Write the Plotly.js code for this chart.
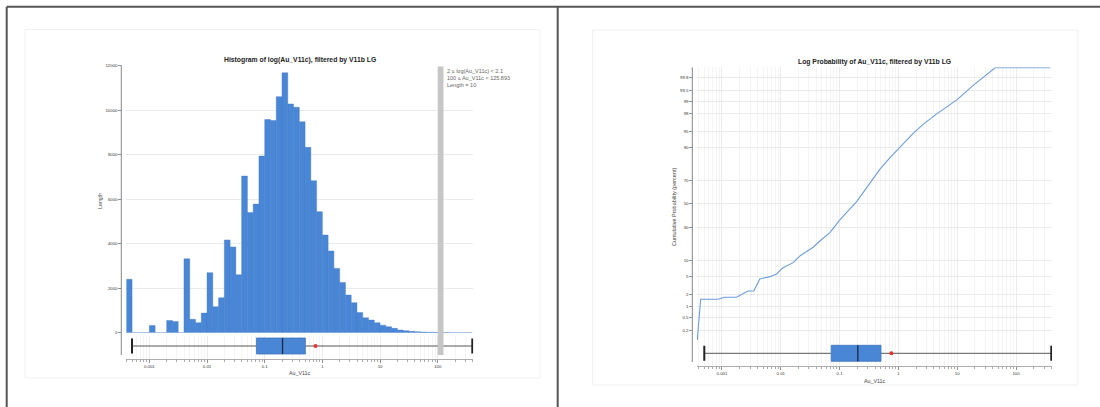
<!DOCTYPE html>
<html><head><meta charset="utf-8">
<script src="https://cdn.plot.ly/plotly-3.0.1.min.js"></script>
<style>html,body{margin:0;padding:0;background:#fff;overflow:hidden}#chart{width:1100px;height:407px}</style>
</head><body><div id="chart"></div>
<script>
// ---------- data ----------
// histogram of log10(Au_V11c): bins of width 0.1 starting at log10 = -3.4
const binStartLog = -3.4;
const binWidthLog = 0.1;
const histLengths = [2400,0,0,0,320,0,0,550,500,0,3320,600,450,880,2700,1170,1570,4170,3850,2600,
  7040,5400,5780,7940,9580,9540,10610,11680,10280,10130,9480,8330,6830,5440,4390,3670,2890,2260,1690,1350,
  910,670,570,450,340,270,195,120,90,60,45,30,20,15,10,5,3,2,1,1];
const highlightBin = [2, 2.1];          // selected bin (log10)
const highlightText = ['2 ≤ log(Au_V11c) < 2.1','100 ≤ Au_V11c < 125.893','Length = 10'];

// box plot statistics of Au_V11c
const boxMin = 0.0005, boxQ1 = 0.072, boxMedian = 0.204, boxQ3 = 0.506, boxMax = 398;
const boxMean = 0.76;

// cumulative probability curve
const cumX   = [0.00038,0.000434,0.000855,0.00111,0.00176,0.00277,0.00347,0.00439,0.0065,0.00845,0.0109,0.0162,0.0211,0.0292,0.0355,0.0461,0.0684,0.101,0.195,0.328,0.486,0.72,1.21,1.80,2.66,4.49,9.85,18.9,44.2,383];
const cumPct = [0.1,1.53,1.53,1.71,1.71,2.41,2.41,4.43,4.95,5.60,7.41,9.13,11.9,14.8,16.3,20.0,25.7,35.8,52.1,68.1,78.5,85.3,91.6,94.6,96.5,97.95,99.09,99.65,99.9,99.9];

const xTickVals = [0.001,0.01,0.1,1,10,100];
const xTickText = ['0.001','0.01','0.1','1','10','100'];
const histTickVals = [0,2000,4000,6000,8000,10000,12000];
const probTicks = [0.2,0.5,1,2,5,10,30,50,70,90,95,98,99,99.5,99.8];

// ---------- helpers ----------
const W = 1100, H = 407;
const px = v => v / W;
const py = v => 1 - v / H;
function normInv(p){
  const a=[-3.969683028665376e+01,2.209460984245205e+02,-2.759285104469687e+02,1.383577518672690e+02,-3.066479806614716e+01,2.506628277459239e+00];
  const b=[-5.447609879822406e+01,1.615858368580409e+02,-1.556989798598866e+02,6.680131188771972e+01,-1.328068155288572e+01];
  const c=[-7.784894002430293e-03,-3.223964580411365e-01,-2.400758277161838e+00,-2.549732539343734e+00,4.374664141464968e+00,2.938163982698783e+00];
  const d=[7.784695709041462e-03,3.224671290700398e-01,2.445134137142996e+00,3.754408661907416e+00];
  const pl=0.02425, ph=1-pl; let q,r;
  if(p<pl){q=Math.sqrt(-2*Math.log(p));return (((((c[0]*q+c[1])*q+c[2])*q+c[3])*q+c[4])*q+c[5])/((((d[0]*q+d[1])*q+d[2])*q+d[3])*q+1);}
  if(p<=ph){q=p-0.5;r=q*q;return (((((a[0]*r+a[1])*r+a[2])*r+a[3])*r+a[4])*r+a[5])*q/(((((b[0]*r+b[1])*r+b[2])*r+b[3])*r+b[4])*r+1);}
  q=Math.sqrt(-2*Math.log(1-p));return -(((((c[0]*q+c[1])*q+c[2])*q+c[3])*q+c[4])*q+c[5])/((((d[0]*q+d[1])*q+d[2])*q+d[3])*q+1);
}
const minorVals = [];
for (let e=-4; e<=2; e++) for (let m=2; m<=9; m++) minorVals.push(m*Math.pow(10,e));

const FONT = 'Liberation Sans, Arial, sans-serif';
const BLUE = '#4a86d6';
const GRID = '#e6e6e6', MINORGRID = '#efefef';
const TICKFONT = {family:FONT, size:4.3, color:'#333'};

const binCenters = histLengths.map((_,i)=> binStartLog + binWidthLog*(i+0.5));

// ---------- geometry ----------
const L = {x0:126.3, x1:473.3, top:65.7, base:332.7, boxTop:336, axis:359, boxC:346, yLine:121.3};
const R = {x0:697, x1:1052, top:67.3, bot:343.2, axis:366, boxC:353.3, yLine:692.3};
const LR = [-3.4, 2.617], RR = [-3.425, 2.612];
const zRange = [-3.16, 3.10];
const boxH = 8, capH = 7.5;

function logAxis(dom, rng, anchor, showLabels){
  return {domain:dom, type:'log', range:rng, anchor:anchor,
    tickmode:'array', tickvals:xTickVals, ticktext:xTickText,
    showticklabels:showLabels, ticks: showLabels?'outside':'', ticklen:3, tickwidth:0.8, tickcolor:'#777',
    showline:showLabels, linecolor:'#999', linewidth:0.8,
    showgrid:true, gridcolor:GRID, gridwidth:0.8, zeroline:false,
    tickfont:TICKFONT,
    minor:{tickmode:'array', tickvals:minorVals, ticks: showLabels?'outside':'', ticklen:2, tickwidth:0.7, tickcolor:'#888', showgrid:true, gridcolor:MINORGRID, gridwidth:0.7}};
}

function boxTraces(xa, ya){
  const t = [];
  t.push({type:'scatter', mode:'lines', xaxis:xa, yaxis:ya, x:[boxMin,boxQ1], y:[0,0], line:{color:'#444',width:0.9}, hoverinfo:'skip'});
  t.push({type:'scatter', mode:'lines', xaxis:xa, yaxis:ya, x:[boxQ3,boxMax], y:[0,0], line:{color:'#444',width:0.9}, hoverinfo:'skip'});
  t.push({type:'scatter', mode:'lines', xaxis:xa, yaxis:ya, x:[boxMin,boxMin], y:[-capH,capH], line:{color:'#222',width:2}, hoverinfo:'skip'});
  t.push({type:'scatter', mode:'lines', xaxis:xa, yaxis:ya, x:[boxMax,boxMax], y:[-capH,capH], line:{color:'#222',width:2}, hoverinfo:'skip'});
  t.push({type:'scatter', mode:'lines', xaxis:xa, yaxis:ya, x:[boxQ1,boxQ3,boxQ3,boxQ1,boxQ1], y:[-boxH,-boxH,boxH,boxH,-boxH],
          fill:'toself', fillcolor:BLUE, line:{color:'#3d74c2',width:0.8}, hoverinfo:'skip'});
  t.push({type:'scatter', mode:'lines', xaxis:xa, yaxis:ya, x:[boxMedian,boxMedian], y:[-boxH,boxH], line:{color:'#1b2940',width:1.3}, hoverinfo:'skip'});
  t.push({type:'scatter', mode:'markers', xaxis:xa, yaxis:ya, x:[boxMean], y:[0], marker:{color:'#e3342f',size:4,symbol:'circle'}, hoverinfo:'skip'});
  return t;
}

const traces = [];
traces.push({type:'bar', xaxis:'x5', yaxis:'y', x:binCenters, y:histLengths, width:binWidthLog,
  marker:{color:BLUE, line:{color:'#3f78c6', width:0.4}}, hoverinfo:'skip'});
traces.push(...boxTraces('x2','y2'));
traces.push({type:'scatter', mode:'lines', xaxis:'x3', yaxis:'y3', x:cumX, y:cumPct.map(p=>normInv(p/100)),
  line:{color:'#6c9ddb', width:1.1}, hoverinfo:'skip'});
traces.push(...boxTraces('x4','y4'));

const layout = {
  width:W, height:H, margin:{l:0,r:0,t:0,b:0}, paper_bgcolor:'#fff', plot_bgcolor:'rgba(0,0,0,0)',
  showlegend:false, font:{family:FONT, size:4, color:'#333'},
  xaxis: logAxis([px(L.x0),px(L.x1)], LR, 'y', false),
  xaxis5: {domain:[px(L.x0),px(L.x1)], overlaying:'x', anchor:'y', range:LR, visible:false, type:'linear'},
  yaxis: {domain:[py(L.base),py(L.top)], range:[0,12000], anchor:'free', position:px(L.yLine),
    tickmode:'array', tickvals:histTickVals, ticktext:histTickVals.map(String),
    ticks:'outside', ticklen:3, tickwidth:0.8, tickcolor:'#777', showline:false,
    showgrid:true, gridcolor:GRID, gridwidth:0.8, zeroline:false, tickfont:TICKFONT},
  xaxis2: logAxis([px(L.x0),px(L.x1)], LR, 'y2', true),
  yaxis2: {domain:[py(L.axis),py(L.boxTop)], range:[-(L.axis-L.boxC), L.boxC-L.boxTop], visible:false},
  xaxis3: logAxis([px(R.x0),px(R.x1)], RR, 'y3', false),
  yaxis3: {domain:[py(R.bot),py(R.top)], range:zRange, anchor:'free', position:px(R.yLine),
    tickmode:'array', tickvals:probTicks.map(p=>normInv(p/100)), ticktext:probTicks.map(String),
    ticks:'outside', ticklen:3, tickwidth:0.8, tickcolor:'#777', showline:false,
    showgrid:true, gridcolor:GRID, gridwidth:0.8, zeroline:false, tickfont:TICKFONT},
  xaxis4: logAxis([px(R.x0),px(R.x1)], RR, 'y4', true),
  yaxis4: {domain:[py(R.axis),py(R.bot)], range:[-(R.axis-R.boxC), R.boxC-R.bot], visible:false},
  shapes: [
    // frame
    {type:'line', xref:'paper', yref:'paper', x0:px(6.7), x1:1, y0:py(6.7), y1:py(6.7), line:{color:'#555',width:2}},
    {type:'line', xref:'paper', yref:'paper', x0:px(6.7), x1:px(6.7), y0:py(6.7), y1:0, line:{color:'#555',width:2}},
    {type:'line', xref:'paper', yref:'paper', x0:px(557.7), x1:px(557.7), y0:py(6.7), y1:0, line:{color:'#555',width:2}},
    // faint cards
    {type:'rect', xref:'paper', yref:'paper', x0:px(25), x1:px(540), y0:py(378), y1:py(29.5), line:{color:'#f1f1f1',width:1}},
    {type:'rect', xref:'paper', yref:'paper', x0:px(592.5), x1:px(1078), y0:py(385), y1:py(30), line:{color:'#f1f1f1',width:1}},
    // y axis lines
    {type:'line', xref:'paper', yref:'paper', x0:px(L.yLine), x1:px(L.yLine), y0:py(L.top-0.5), y1:py(355), line:{color:'#777',width:0.9}},
    {type:'line', xref:'paper', yref:'paper', x0:px(R.yLine), x1:px(R.yLine), y0:py(R.top), y1:py(362), line:{color:'#777',width:0.9}},
    // highlighted bin band
    {type:'rect', xref:'x5', yref:'paper', x0:highlightBin[0], x1:highlightBin[1], y0:py(355), y1:py(66.5), fillcolor:'#c6c6c6', line:{width:0}, layer:'above'}
  ],
  annotations: [
    {text:'<b>Histogram of log(Au_V11c), filtered by V11b LG</b>', xref:'paper', yref:'paper', x:px((L.x0+L.x1)/2), y:py(60), xanchor:'center', yanchor:'middle', showarrow:false, font:{family:FONT,size:6.8,color:'#222'}},
    {text:'<b>Log Probability of Au_V11c, filtered by V11b LG</b>', xref:'paper', yref:'paper', x:px((R.x0+R.x1)/2), y:py(61.7), xanchor:'center', yanchor:'middle', showarrow:false, font:{family:FONT,size:6.8,color:'#222'}},
    {text:'Length', xref:'paper', yref:'paper', x:px(100), y:py(201), textangle:-90, xanchor:'center', yanchor:'middle', showarrow:false, font:{family:FONT,size:5.3,color:'#444'}},
    {text:'Cumulative Probability (percent)', xref:'paper', yref:'paper', x:px(673.3), y:py(206.7), textangle:-90, xanchor:'center', yanchor:'middle', showarrow:false, font:{family:FONT,size:5.5,color:'#444'}},
    {text:'Au_V11c', xref:'paper', yref:'paper', x:px((L.x0+L.x1)/2), y:py(372.7), xanchor:'center', yanchor:'middle', showarrow:false, font:{family:FONT,size:5.3,color:'#444'}},
    {text:'Au_V11c', xref:'paper', yref:'paper', x:px((R.x0+R.x1)/2), y:py(381), xanchor:'center', yanchor:'middle', showarrow:false, font:{family:FONT,size:5.3,color:'#444'}},
    {text:highlightText.join('<br>'), xref:'paper', yref:'paper', x:px(445.5), y:py(66.5), xanchor:'left', yanchor:'top', align:'left', showarrow:false, borderpad:0, font:{family:FONT,size:5.5,color:'#666'}}
  ]
};

Plotly.newPlot('chart', traces, layout, {staticPlot:true, displayModeBar:false});
</script>
</body></html>
